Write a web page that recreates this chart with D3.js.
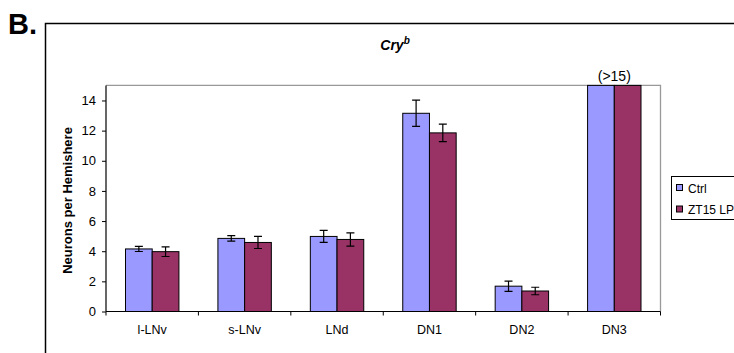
<!DOCTYPE html>
<html><head><meta charset="utf-8">
<script src="https://cdn.jsdelivr.net/npm/d3@7"></script>
<style>body{margin:0;background:#fff}svg{display:block;font-family:Arial,"Liberation Sans",sans-serif}</style>
</head><body><svg id="c" width="734" height="353"></svg>
<script>
const categories = ["l-LNv","s-LNv","LNd","DN1","DN2","DN3"];
const seriesNames = ["Ctrl","ZT15 LP"];
const ctrlValues = [4.15,4.85,4.98,13.15,1.68,15];
const ctrlErrors = [0.17,0.18,0.4,0.87,0.34,null];
const lpValues = [3.97,4.58,4.78,11.85,1.36,15];
const lpErrors = [0.32,0.4,0.44,0.58,0.25,null];
const yTicks = [0,2,4,6,8,10,12,14];
const colors = ["#9999ff","#993366"];

const svg = d3.select("#c");
const L=106, R=660.5, T=85.4, B=311.5;
const x = d3.scaleBand().domain(categories).range([L,R]);
const xs = d3.scaleBand().domain(seriesNames).range([0,x.bandwidth()]).paddingInner(0).paddingOuter(0.73);
const y = d3.scaleLinear().domain([0,15]).range([B,T]);

// outer frame
svg.append("path").attr("d",`M45.5,360V23.5H740`).attr("fill","none").attr("stroke","#000").attr("stroke-width",1.5);
svg.append("text").attr("x",8).attr("y",34).attr("font-size",29).attr("font-weight","bold").text("B.");

// plot border (top/right)
svg.append("path").attr("d",`M${L},${T}H${R}V${B}`).attr("fill","none").attr("stroke","#999").attr("stroke-width",1.3);

const data = [
  {name:seriesNames[0], vals:ctrlValues, errs:ctrlErrors, color:colors[0]},
  {name:seriesNames[1], vals:lpValues, errs:lpErrors, color:colors[1]}
];
data.forEach(s=>{
  const g = svg.append("g");
  g.selectAll("rect").data(categories).join("rect")
    .attr("x",c=>x(c)+xs(s.name)).attr("width",xs.bandwidth())
    .attr("y",(c,i)=>y(s.vals[i])).attr("height",(c,i)=>B-y(s.vals[i]))
    .attr("fill",s.color).attr("stroke","#000").attr("stroke-width",1);
  categories.forEach((c,i)=>{
    const e=s.errs[i]; if(e==null) return;
    const cx = x(c)+xs(s.name)+xs.bandwidth()/2;
    const y1=y(s.vals[i]+e), y2=y(s.vals[i]-e);
    g.append("path").attr("d",`M${cx},${y1}V${y2}M${cx-4},${y1}H${cx+4}M${cx-4},${y2}H${cx+4}`)
      .attr("stroke","#000").attr("stroke-width",1.2).attr("fill","none");
  });
});

// axes
const yAxis = d3.axisLeft(y).tickValues(yTicks).tickSize(4).tickPadding(6);
const ya = svg.append("g").attr("transform",`translate(${L},0)`).call(yAxis);
ya.select(".domain").attr("d",`M0,${T}V${B}`).attr("stroke","#000").attr("stroke-width",1.2);
ya.selectAll("text").attr("font-size",13).attr("font-family","Arial,'Liberation Sans',sans-serif").attr("fill","#000");

const xa = svg.append("g").attr("transform",`translate(0,${B})`);
xa.append("line").attr("x1",L).attr("x2",R).attr("stroke","#000").attr("stroke-width",1.2);
const bounds = categories.map(c=>x(c)).concat([R]);
xa.selectAll(".tk").data(bounds).join("line").attr("x1",d=>d).attr("x2",d=>d).attr("y1",0).attr("y2",4).attr("stroke","#000");
xa.selectAll(".lb").data(categories).join("text").attr("x",c=>x(c)+x.bandwidth()/2).attr("y",22.5)
  .attr("text-anchor","middle").attr("font-size",12.5).text(c=>c);

// y label
svg.append("text").attr("transform",`translate(72,${(T+B)/2+2}) rotate(-90)`).attr("text-anchor","middle")
  .attr("font-size",13).attr("font-weight","bold").text("Neurons per Hemishere");

// title
const t = svg.append("text").attr("x",395).attr("y",50).attr("text-anchor","middle").attr("font-size",14).attr("font-weight","bold").attr("font-style","italic");
t.append("tspan").text("Cry");
t.append("tspan").attr("font-size",10).attr("dy",-6).text("b");

// (>15)
svg.append("text").attr("x",x("DN3")+x.bandwidth()/2).attr("y",81).attr("text-anchor","middle").attr("font-size",14).text("(>15)");

// legend
const lg = svg.append("g");
lg.append("rect").attr("x",671.5).attr("y",176.5).attr("width",80).attr("height",43).attr("fill","#fff").attr("stroke","#000");
seriesNames.forEach((n,i)=>{
  const yy = 188+i*21.5;
  lg.append("rect").attr("x",676.5).attr("y",yy-3.5).attr("width",6).attr("height",6).attr("fill",colors[i]).attr("stroke","#000");
  lg.append("text").attr("x",688).attr("y",yy+4.5).attr("font-size",12).text(n);
});
</script></body></html>
